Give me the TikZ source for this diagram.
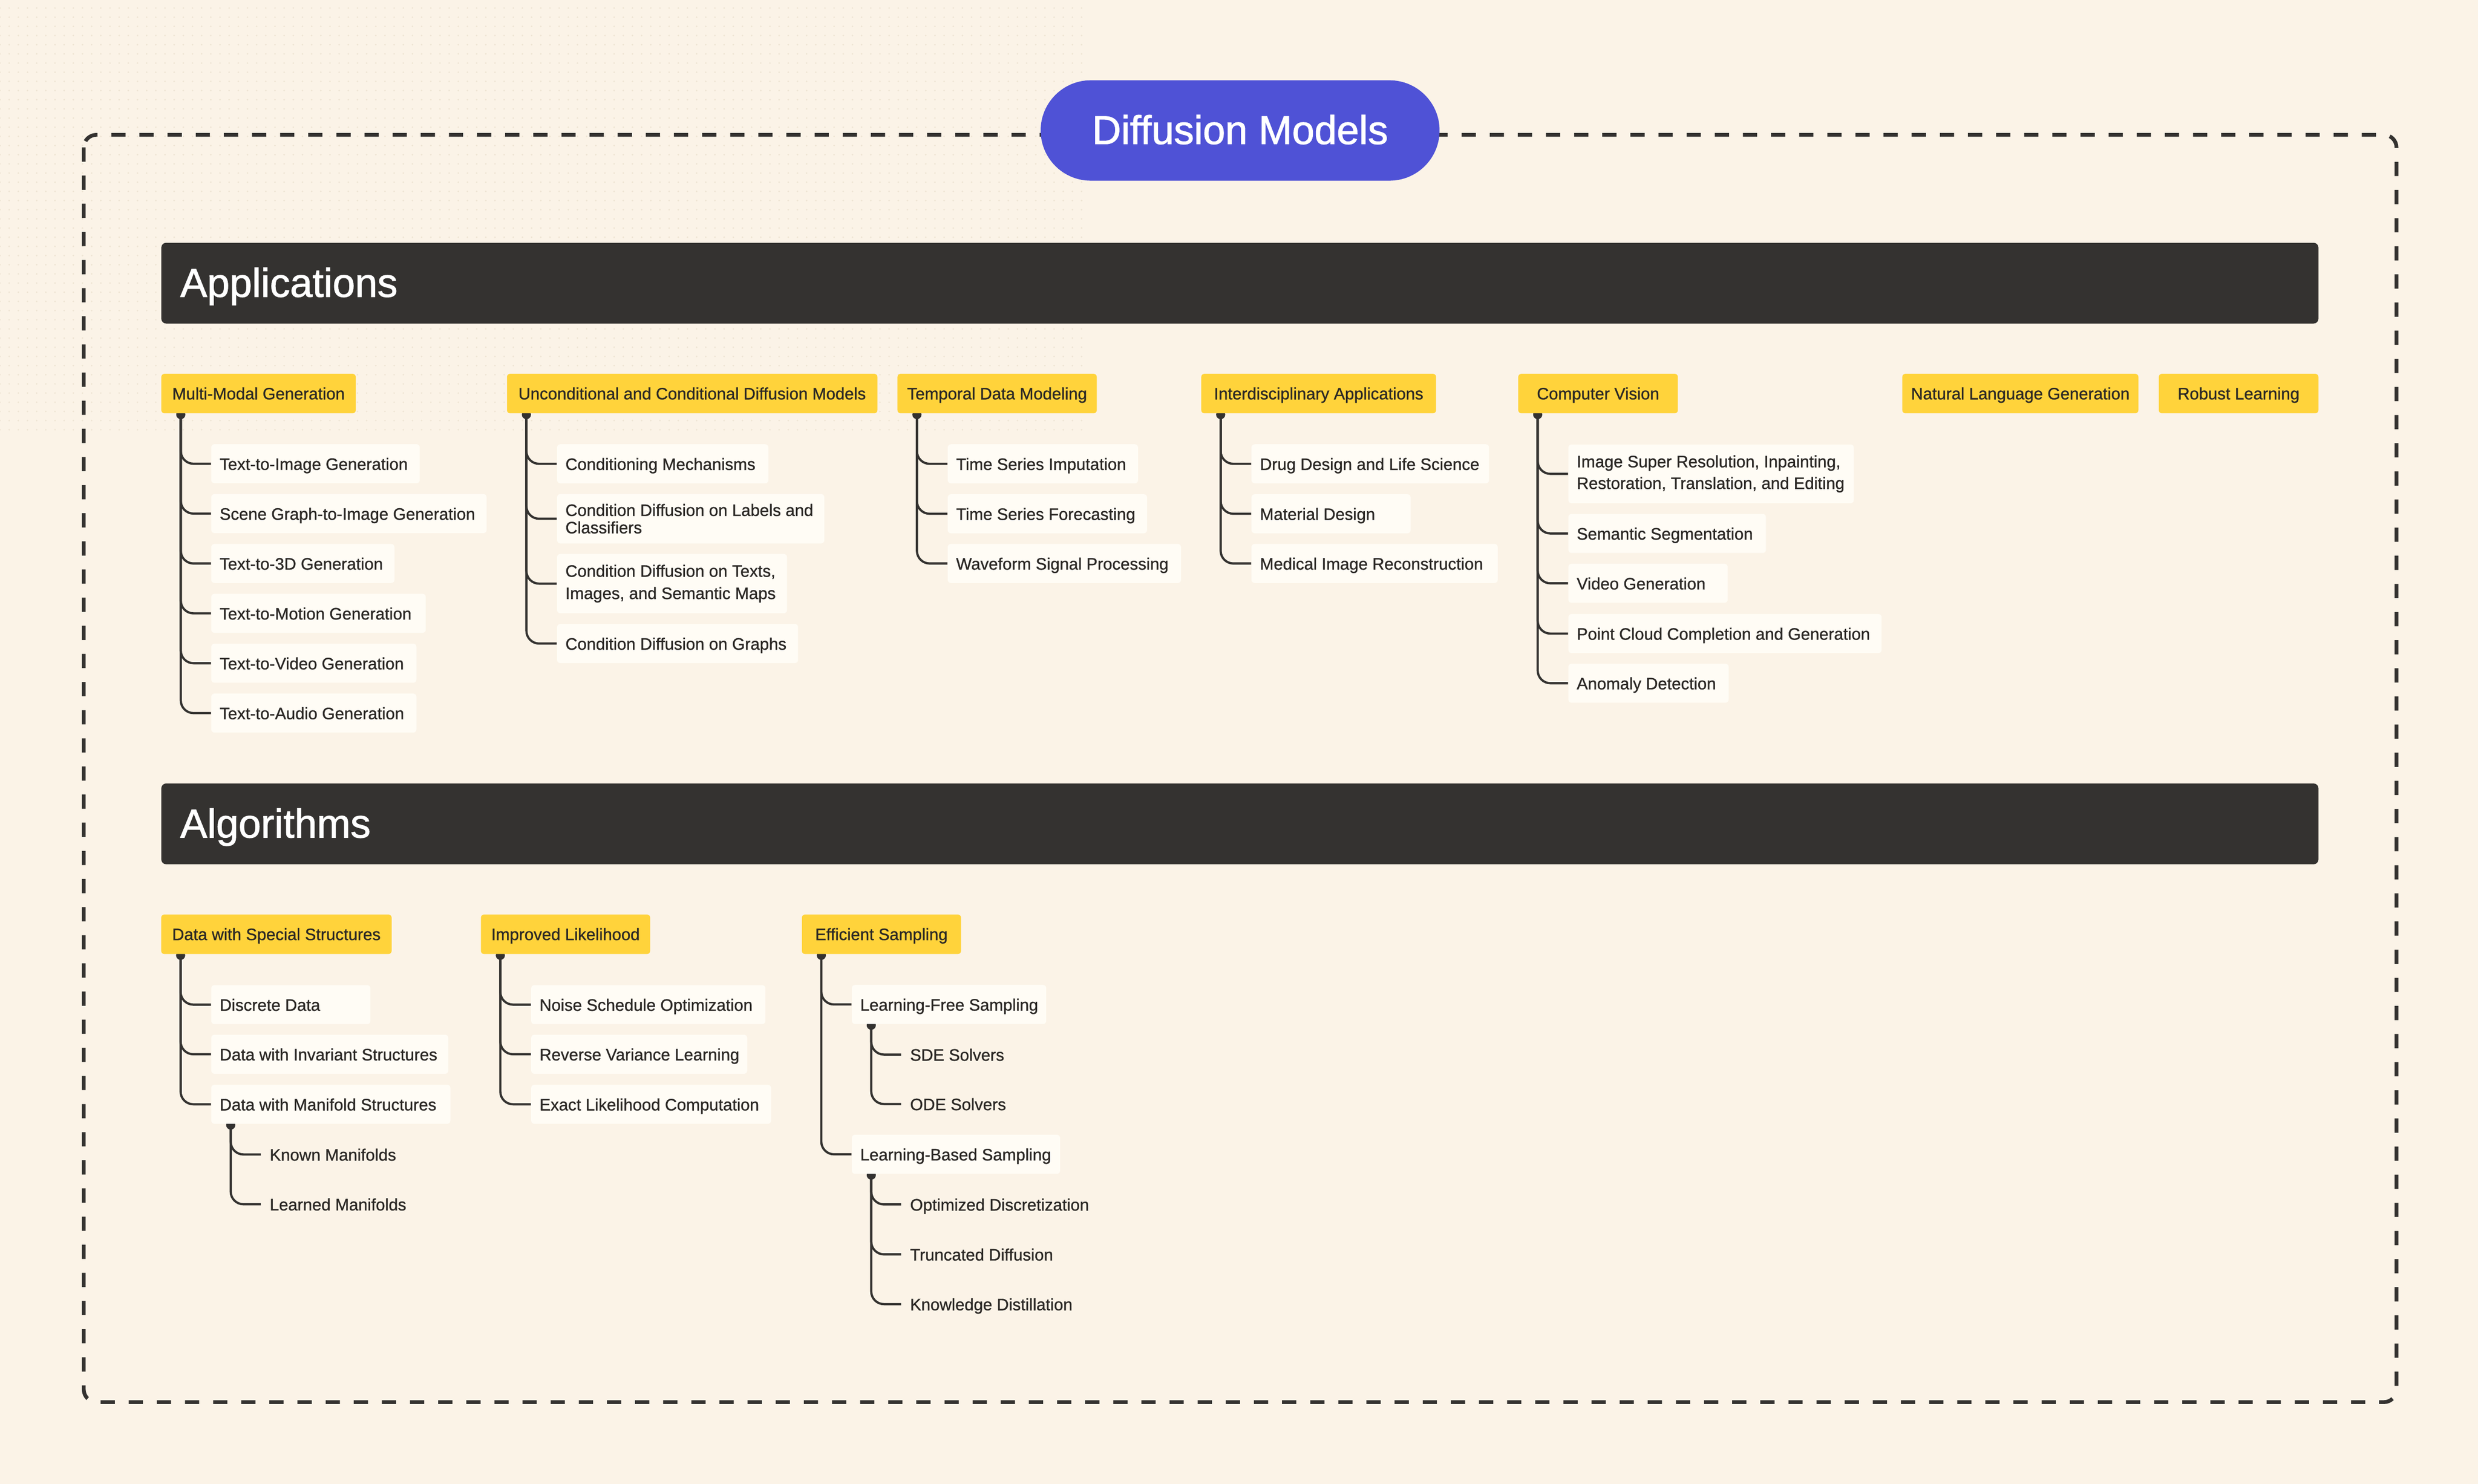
\documentclass[tikz,border=0pt]{standalone}
\usepackage{fontspec}
\setmainfont{Liberation Sans}[FakeBold=0.9]
\newfontfamily\headfam{Liberation Sans}[FakeBold=1.4]
\usetikzlibrary{patterns.meta}
\definecolor{bgc}{HTML}{FBF3E7}
\definecolor{dotc}{HTML}{EEE4D3}
\definecolor{yel}{HTML}{FFD33B}
\definecolor{dark}{HTML}{343230}
\definecolor{leafc}{HTML}{FFFCF5}
\definecolor{blu}{HTML}{4F52D6}
\definecolor{txt}{HTML}{2B2825}
\pgfdeclarelayer{bglayer}
\pgfdeclarelayer{midlayer}
\pgfsetlayers{bglayer,midlayer,main}
\newcommand\lbx[2]{\makebox[#1pt][l]{#2}}
\begin{document}
\begin{tikzpicture}[x=1pt,y=-1pt,
  smallfont/.style={font=\fontsize{10.5pt}{12.6pt}\selectfont},
  cat/.style={fill=yel, rounded corners=2pt, anchor=west, inner sep=0pt,
    minimum height=25pt, minimum width=#1pt, text height=9.2pt, text depth=1.8pt,
    text=txt, smallfont},
  leaf/.style={fill=leafc, rounded corners=2pt, anchor=west, inner xsep=5.3pt,
    inner ysep=0pt, minimum height=24.7pt, text height=9.5pt, text depth=1.7pt,
    text=txt, smallfont},
  leafm/.style={fill=leafc, rounded corners=2pt, anchor=west, inner xsep=5.3pt,
    inner ysep=0pt, minimum height=#1pt, align=left, text=txt, smallfont},
  sub/.style={anchor=west, inner xsep=5.5pt, inner ysep=0pt, text height=9.5pt,
    text depth=1.7pt, text=txt, smallfont},
  bar/.style={fill=dark, text=white, rounded corners=3pt, anchor=west,
    inner xsep=12pt, inner ysep=0pt, minimum height=51.1pt, text width=1340.9pt,
    align=left, text height=19pt, text depth=1.7pt,
    font=\headfam\fontsize{25.5pt}{30pt}\selectfont},
  pill/.style={fill=blu, text=white, minimum width=252.4pt, minimum height=63.5pt,
    rounded corners=31.7pt, inner sep=0pt, text height=19pt, text depth=1.9pt,
    font=\headfam\fontsize{25.4pt}{30pt}\selectfont},
  conn/.style={draw=dark, line width=1.4pt, rounded corners=8pt},
  border/.style={draw=dark, line width=2.4pt, dash pattern=on 9pt off 8.8pt,
    rounded corners=8pt}
]
\begin{pgfonlayer}{bglayer}
  \fill[bgc] (0,0) rectangle (1568,938.9);
  \fill[pattern={Dots[distance=5.8pt,radius=0.55pt]}, pattern color=dotc]
    (0,0) rectangle (685,275);
  \draw[border] (53,85.3) rectangle (1516.4,887.1);
\end{pgfonlayer}
\useasboundingbox (0,0) rectangle (1568,938.9);

% title
\node[pill] (title) at (784.7,82.55) {Diffusion Models};

% Applications
\node[bar] (app) at (101.9,179.15) {Applications};
\node[cat=123.0] (mm) at (101.9,249) {Multi-Modal Generation};
\node[cat=234.4] (uc) at (320.6,249) {Unconditional and Conditional Diffusion Models};
\node[cat=126.1] (td) at (567.7,249) {Temporal Data Modeling};
\node[cat=148.6] (ia) at (759.9,249) {Interdisciplinary Applications};
\node[cat=101.0] (cv) at (960.5,249) {Computer Vision};
\node[cat=149.4] (nl) at (1203.5,249) {Natural Language Generation};
\node[cat=101.0] (rl) at (1365.8,249) {Robust Learning};

\node[leaf] (mm1) at (133.5,293.4)  {\lbx{121.3}{Text-to-Image Generation}};
\node[leaf] (mm2) at (133.5,324.95) {\lbx{163.6}{Scene Graph-to-Image Generation}};
\node[leaf] (mm3) at (133.5,356.5)  {\lbx{105.3}{Text-to-3D Generation}};
\node[leaf] (mm4) at (133.5,388.05) {\lbx{125.1}{Text-to-Motion Generation}};
\node[leaf] (mm5) at (133.5,419.6)  {\lbx{119.2}{Text-to-Video Generation}};
\node[leaf] (mm6) at (133.5,451.15) {\lbx{119.2}{Text-to-Audio Generation}};

\node[leaf] (uc1) at (352.3,293.45) {\lbx{123.1}{Conditioning Mechanisms}};
\node[leafm=31.2] (uc2) at (352.3,328.2)
  {\lbx{158.5}{Condition Diffusion on Labels and}\\[-1.6pt]\lbx{158.5}{Classifiers}};
\node[leafm=37.5] (uc3) at (352.3,369.25)
  {\lbx{134.9}{Condition Diffusion on Texts,}\\[1.5pt]\lbx{134.9}{Images, and Semantic Maps}};
\node[leaf] (uc4) at (352.3,407.15) {\lbx{141.9}{Condition Diffusion on Graphs}};

\node[leaf] (td1) at (599.5,293.45) {\lbx{109.8}{Time Series Imputation}};
\node[leaf] (td2) at (599.5,325.05) {\lbx{115.5}{Time Series Forecasting}};
\node[leaf] (td3) at (599.5,356.5)  {\lbx{137.0}{Waveform Signal Processing}};

\node[leaf] (ia1) at (791.7,293.45) {\lbx{139.7}{Drug Design and Life Science}};
\node[leaf] (ia2) at (791.7,325.05) {\lbx{90.1}{Material Design}};
\node[leaf] (ia3) at (791.7,356.5)  {\lbx{145.2}{Medical Image Reconstruction}};

\node[leafm=37.2] (cv1) at (992.2,299.8)
  {\lbx{170.0}{Image Super Resolution, Inpainting,}\\[1.1pt]\lbx{170.0}{Restoration, Translation, and Editing}};
\node[leaf] (cv2) at (992.2,337.5)  {\lbx{114.4}{Semantic Segmentation}};
\node[leaf] (cv3) at (992.2,369.05) {\lbx{90.2}{Video Generation}};
\node[leaf] (cv4) at (992.2,400.85) {\lbx{187.6}{Point Cloud Completion and Generation}};
\node[leaf] (cv5) at (992.2,432.25) {\lbx{90.8}{Anomaly Detection}};

% Algorithms
\node[bar] (alg) at (101.9,521.25) {Algorithms};
\node[cat=145.8] (ds) at (101.8,591.1) {Data with Special Structures};
\node[cat=107.1] (il) at (304.1,591.1) {Improved Likelihood};
\node[cat=100.7] (es) at (507.2,591.1) {Efficient Sampling};

\node[leaf] (ds1) at (133.5,635.6)  {\lbx{90.1}{Discrete Data}};
\node[leaf] (ds2) at (133.5,667.0)  {\lbx{139.4}{Data with Invariant Structures}};
\node[leaf] (ds3) at (133.5,698.65) {\lbx{140.7}{Data with Manifold Structures}};
\node[sub] (km) at (165.0,730.4) {Known Manifolds};
\node[sub] (lm) at (165.0,761.9) {Learned Manifolds};

\node[leaf] (il1) at (335.9,635.6)  {\lbx{137.6}{Noise Schedule Optimization}};
\node[leaf] (il2) at (335.9,667.0)  {\lbx{126.1}{Reverse Variance Learning}};
\node[leaf] (il3) at (335.9,698.65) {\lbx{141.2}{Exact Likelihood Computation}};

\node[leaf] (es1) at (538.8,635.5) {\lbx{112.4}{Learning-Free Sampling}};
\node[sub] (sd) at (570.2,667.2) {SDE Solvers};
\node[sub] (od) at (570.2,698.5) {ODE Solvers};
\node[leaf] (es2) at (538.8,730.3) {\lbx{121.2}{Learning-Based Sampling}};
\node[sub] (opd) at (570.2,762.0) {Optimized Discretization};
\node[sub] (trd) at (570.2,793.6) {Truncated Diffusion};
\node[sub] (kd) at (570.2,825.1) {Knowledge Distillation};

% connectors
\begin{pgfonlayer}{midlayer}
  \foreach \p/\n in {mm/6,uc/4,td/3,ia/3,cv/5,ds/3,il/3,es/2}{
    \coordinate (\p-t) at ([xshift=12.5pt]\p.south west);
    \fill[dark] ([yshift=-0.6pt]\p-t) circle[radius=2.9pt];
    \foreach \i in {1,...,\n}{\draw[conn] (\p-t) |- (\p\i.west);}
  }
  \foreach \p/\list in {ds3/{km,lm},es1/{sd,od},es2/{opd,trd,kd}}{
    \coordinate (\p-t) at ([xshift=12.5pt]\p.south west);
    \fill[dark] ([yshift=-0.6pt]\p-t) circle[radius=2.9pt];
    \foreach \c in \list {\draw[conn] (\p-t) |- (\c.west);}
  }
\end{pgfonlayer}
\end{tikzpicture}
\end{document}
